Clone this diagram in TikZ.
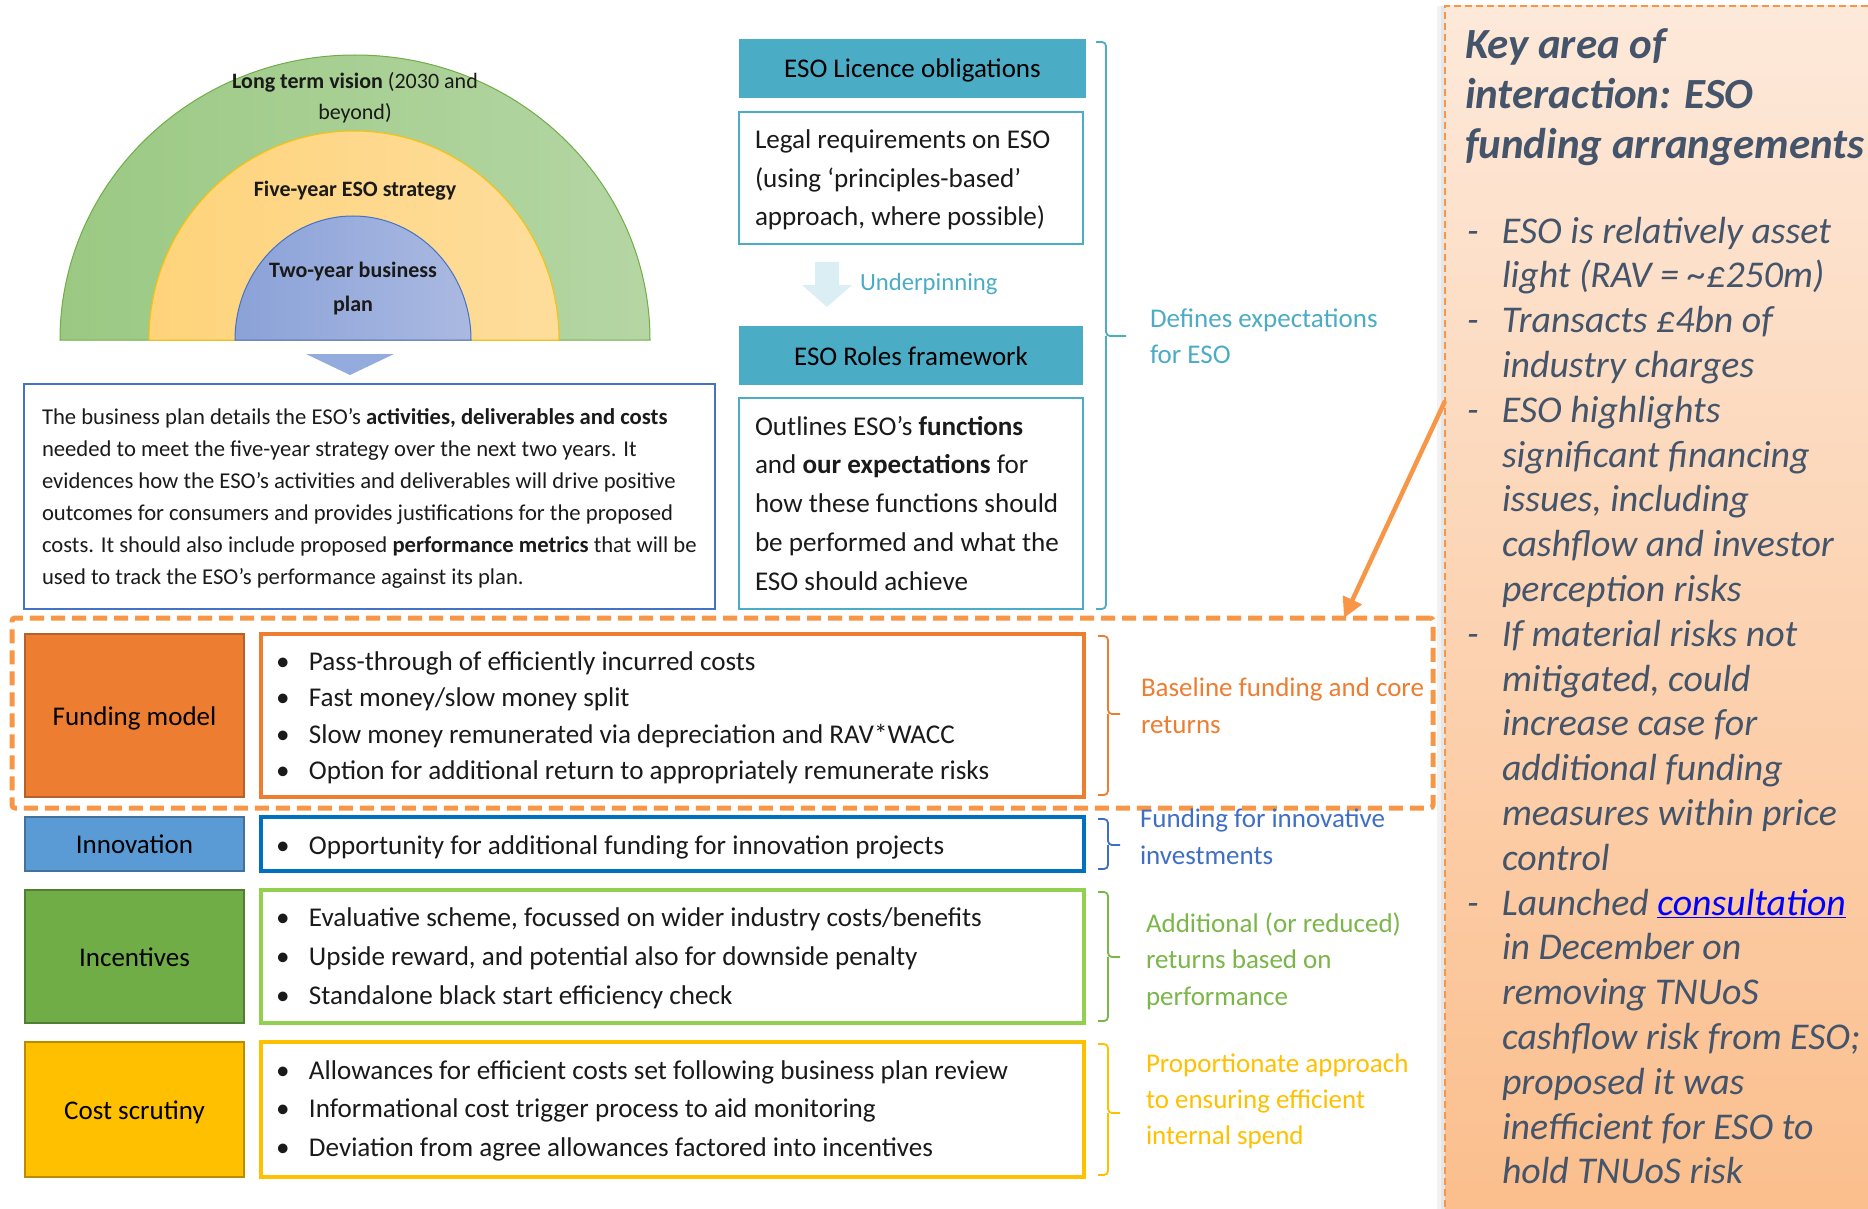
\documentclass[tikz,border=0pt]{standalone}
\usepackage{fontspec}
\setmainfont{Carlito}
\usetikzlibrary{arrows.meta}

% palette
\definecolor{esoTeal}{HTML}{4BACC6}
\definecolor{paleTeal}{HTML}{DAEEF3}
\definecolor{planBlue}{HTML}{4472C4}
\definecolor{fmOrange}{HTML}{ED7D31}
\definecolor{fmOrangeDk}{HTML}{B5612A}
\definecolor{innBlue}{HTML}{5B9BD5}
\definecolor{innBlueDk}{HTML}{41719C}
\definecolor{innLine}{HTML}{0070C0}
\definecolor{innText}{HTML}{3F6FC5}
\definecolor{incGreen}{HTML}{70AD47}
\definecolor{incGreenDk}{HTML}{507E32}
\definecolor{incLine}{HTML}{92D050}
\definecolor{incText}{HTML}{7AB648}
\definecolor{costGold}{HTML}{FFC000}
\definecolor{costGoldDk}{HTML}{BC8C00}
\definecolor{keyOrange}{HTML}{F79646}
\definecolor{panelTop}{HTML}{FDE9DA}
\definecolor{panelBot}{HTML}{FBBE8C}
\definecolor{slate}{HTML}{44546A}
\definecolor{linkBlue}{HTML}{0000FF}
\definecolor{greenL}{HTML}{9BC983}
\definecolor{greenR}{HTML}{B5D6A4}
\definecolor{yellowL}{HTML}{FED37A}
\definecolor{yellowR}{HTML}{FEDD9C}
\definecolor{blueL}{HTML}{8BA2D8}
\definecolor{blueR}{HTML}{AAB9E1}
\definecolor{triBlue}{HTML}{93ACDD}
\definecolor{ink}{HTML}{1A1A1A}

\newcommand{\bul}{\makebox[33pt][l]{•}}
\newcommand{\dashitem}{\makebox[35pt][l]{-}}
\newcommand{\cont}{\hspace*{35pt}}
% right-hand brace: colour, x of arms, top, bottom, middle, tick end
\newcommand{\sidebrace}[6]{%
  \draw[#1, line width=1.8pt, rounded corners=4pt]
    (#2,#3) -- ++(10,0) -- (#2+10,#5) -- (#6,#5)
    (#2+10,#5) -- (#2+10,#4) -- (#2,#4);}

\begin{document}
\begin{tikzpicture}[x=1pt, y=-1pt,
  every node/.style={inner sep=0pt, outer sep=0pt},
  txt/.style={text=ink, align=left, anchor=west, yshift=-2.4pt},
  hdr/.style={fill=esoTeal, anchor=north west, minimum height=59, text=black,
              text height=22pt, text depth=3pt, font=\fontsize{27}{32}\selectfont},
  infobox/.style={draw=esoTeal, line width=2.5pt, anchor=north west, fill=white},
  tag/.style n args={2}{fill=#1, draw=#2, line width=2pt, anchor=north west,
              minimum width=219, text=black, text height=22pt, text depth=3pt,
              font=\fontsize{27}{32}\selectfont},
  listbox/.style={draw=#1, line width=3.5pt, anchor=north west,
              minimum width=823, fill=white},
  sidelabel/.style={text=#1, align=left, anchor=west},
  discnote/.style={align=center, text=ink, yshift=-2.4pt},
  halfdisc/.style={line width=1pt}]

\useasboundingbox (0,0) rectangle (1868,1209);

% ---------- key-area panel on the right ----------
\fill[black, opacity=0.05] (1437,6) rectangle (1445,1209);
\fill[black, opacity=0.05] (1441,6) rectangle (1445,1209);
\node[anchor=north west, minimum width=440, minimum height=1215,
      top color=panelTop, bottom color=panelBot,
      draw=keyOrange, line width=1.6pt, dash pattern=on 7pt off 4pt] (panel) at (1445,6) {};

\node[txt, yshift=-0.8pt, text=slate, font=\fontsize{43}{50}\selectfont\bfseries\itshape] (keytitle) at (1465,94)
  {Key area of\\interaction: ESO\\funding arrangements};

\node[txt, yshift=2.4pt, text=slate, font=\fontsize{37.8}{44.8}\selectfont\itshape] (keylist) at (1467,700.5)
  {\dashitem ESO is relatively asset\\
   \cont light (RAV = \textasciitilde£250m)\\
   \dashitem Transacts £4bn of\\
   \cont industry charges\\
   \dashitem ESO highlights\\
   \cont significant financing\\
   \cont issues, including\\
   \cont cashflow and investor\\
   \cont perception risks\\
   \dashitem If material risks not\\
   \cont mitigated, could\\
   \cont increase case for\\
   \cont additional funding\\
   \cont measures within price\\
   \cont control\\
   \dashitem Launched {\color{linkBlue}\underline{consultation}}\\
   \cont in December on\\
   \cont removing TNUoS\\
   \cont cashflow risk from ESO;\\
   \cont proposed it was\\
   \cont inefficient for ESO to\\
   \cont hold TNUoS risk};

% ---------- nested half-discs ----------
\shade[halfdisc, left color=greenL, right color=greenR, draw=incGreen]
  (60,340) arc[start angle=180, end angle=0, x radius=295pt, y radius=285pt] -- cycle;
\shade[halfdisc, left color=yellowL, right color=yellowR, draw=costGold]
  (149,340) arc[start angle=180, end angle=0, x radius=205pt, y radius=209pt] -- cycle;
\shade[halfdisc, left color=blueL, right color=blueR, draw=planBlue]
  (235,340) arc[start angle=180, end angle=0, x radius=118pt, y radius=124pt] -- cycle;

\node[discnote, font=\fontsize{22}{31}\selectfont] (vision) at (355,95.5)
  {\textbf{Long term vision} (2030 and\\beyond)};
\node[discnote, font=\fontsize{22}{31}\selectfont\bfseries] (strategy) at (355,188)
  {Five-year ESO strategy};
\node[discnote, font=\fontsize{22}{34}\selectfont\bfseries] (bizplan) at (353,286)
  {Two-year business\\plan};

\fill[triBlue] (306,354) -- (394,354) -- (350,375) -- cycle;

% ---------- business plan description ----------
\node[draw=planBlue, line width=2pt, anchor=north west, minimum width=691, minimum height=225]
  (planbox) at (24,384) {};
\node[txt, yshift=-0.6pt, font=\fontsize{22.65}{32}\selectfont] (plantext) at (42,495)
  {The business plan details the ESO’s \textbf{activities, deliverables and costs}\\
   needed to meet the five-year strategy over the next two years. It\\
   evidences how the ESO’s activities and deliverables will drive positive\\
   outcomes for consumers and provides justifications for the proposed\\
   costs. It should also include proposed \textbf{performance metrics} that will be\\
   used to track the ESO’s performance against its plan.};

% ---------- licence and roles ----------
\node[hdr, minimum width=347] (licence) at (739,39) {ESO Licence obligations};
\node[infobox, minimum width=344, minimum height=132] (legal) at (739,112) {};
\node[txt, font=\fontsize{27.1}{38.5}\selectfont] (legaltext) at (755,177.5)
  {Legal requirements on ESO\\(using ‘principles-based’\\approach, where possible)};

\fill[paleTeal] (815,262) -- (839,262) -- (839,285) -- (852,285) -- (827,307)
  -- (802,285) -- (815,285) -- cycle;
\node[sidelabel=esoTeal, yshift=-2.4pt, font=\fontsize{24.7}{30}\selectfont] (underpin) at (860,282) {Underpinning};

\node[hdr, minimum width=344] (roles) at (739,326) {ESO Roles framework};
\node[infobox, minimum width=344, minimum height=211] (outline) at (739,398) {};
\node[txt, yshift=1.2pt, font=\fontsize{27.1}{38.75}\selectfont] (outlinetext) at (755,502)
  {Outlines ESO’s \textbf{functions}\\and \textbf{our expectations} for\\how these functions should\\be performed and what the\\ESO should achieve};

\sidebrace{esoTeal}{1096}{42}{609}{336}{1126}
\node[sidelabel=esoTeal, font=\fontsize{27}{36}\selectfont] (defines) at (1150,336)
  {Defines expectations\\for ESO};

% ---------- funding arrangement rows ----------
\node[anchor=north west, minimum width=1421, minimum height=190, draw=keyOrange,
      line width=5pt, dash pattern=on 14pt off 7pt, rounded corners=3pt] (keyframe) at (12,618) {};

\node[tag={fmOrange}{fmOrangeDk}, minimum height=163] (funding) at (25,634) {Funding model};
\node[listbox=fmOrange, minimum height=163] (fundlist) at (261,634) {};
\node[txt, font=\fontsize{27.1}{36.3}\selectfont] (fundtext) at (276,715.5)
  {\bul Pass-through of efficiently incurred costs\\
   \bul Fast money/slow money split\\
   \bul Slow money remunerated via depreciation and RAV*WACC\\
   \bul Option for additional return to appropriately remunerate risks};
\sidebrace{fmOrange}{1098}{636}{795}{714}{1120}
\node[sidelabel=fmOrange, font=\fontsize{27}{37}\selectfont] (fundnote) at (1141,705.5)
  {Baseline funding and core\\returns};

\node[tag={innBlue}{innBlueDk}, minimum height=54] (innovation) at (25,817) {Innovation};
\node[listbox=innLine, minimum height=54] (innlist) at (261,817) {};
\node[txt, font=\fontsize{27.1}{36}\selectfont] (inntext) at (276,845)
  {\bul Opportunity for additional funding for innovation projects};
\sidebrace{innText}{1098}{819}{869}{845}{1120}
\node[sidelabel=innText, font=\fontsize{27}{37}\selectfont] (innnote) at (1140,836.5)
  {Funding for innovative\\investments};

\node[tag={incGreen}{incGreenDk}, minimum height=133] (incentives) at (25,890) {Incentives};
\node[listbox=incLine, minimum height=133] (inclist) at (261,890) {};
\node[txt, font=\fontsize{27.1}{39}\selectfont] (inctext) at (276,956)
  {\bul Evaluative scheme, focussed on wider industry costs/benefits\\
   \bul Upside reward, and potential also for downside penalty\\
   \bul Standalone black start efficiency check};
\sidebrace{incText}{1098}{892}{1021}{957}{1120}
\node[sidelabel=incText, yshift=-1.8pt, font=\fontsize{27}{36.5}\selectfont] (incnote) at (1146,959.3)
  {Additional (or reduced)\\returns based on\\performance};

\node[tag={costGold}{costGoldDk}, minimum height=135] (cost) at (25,1042) {Cost scrutiny};
\node[listbox=costGold, minimum height=135] (costlist) at (261,1042) {};
\node[txt, font=\fontsize{27.1}{38.5}\selectfont] (costtext) at (276,1108.5)
  {\bul Allowances for efficient costs set following business plan review\\
   \bul Informational cost trigger process to aid monitoring\\
   \bul Deviation from agree allowances factored into incentives};
\sidebrace{costGold}{1098}{1044}{1175}{1113}{1120}
\node[sidelabel=costGold, yshift=-2.8pt, font=\fontsize{27}{36}\selectfont] (costnote) at (1146,1098.7)
  {Proportionate approach\\to ensuring efficient\\internal spend};

% ---------- pointer from the panel to the funding row ----------
\coordinate (pointerTail) at (panel.west |- 0,401);
\coordinate (pointerTip) at (keyframe.north west -| 1344,0);
\draw[keyOrange, line width=4.5pt, -{Triangle[length=20pt,width=20pt]}] (pointerTail) -- (pointerTip);

\end{tikzpicture}
\end{document}
